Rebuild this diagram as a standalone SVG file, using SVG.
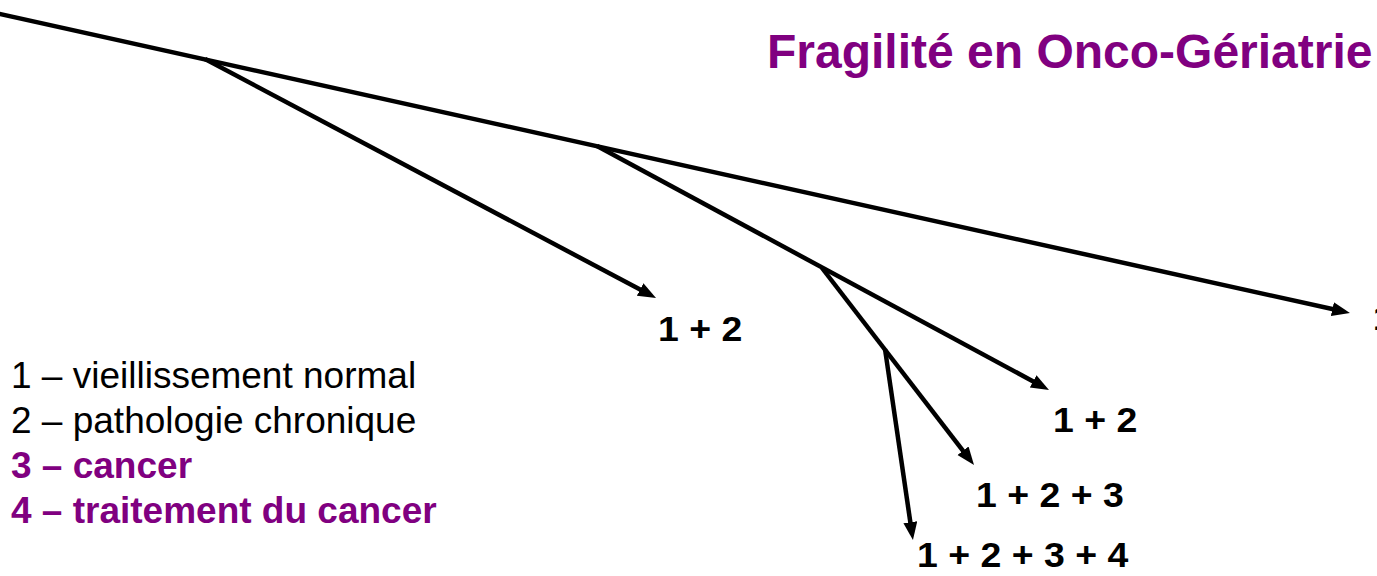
<svg xmlns="http://www.w3.org/2000/svg" width="1377" height="576" viewBox="0 0 1377 576">
<style>
.ln{stroke:#000;stroke-width:4.5;fill:none;marker-end:url(#ah)}
.lbl{font-family:"Liberation Sans",Arial,sans-serif;font-weight:bold;font-size:35px;fill:#000}
.leg{font-family:"Liberation Sans",Arial,sans-serif;font-size:37px;fill:#000}
.legp{font-family:"Liberation Sans",Arial,sans-serif;font-size:37px;font-weight:bold;fill:#800080}
.title{font-family:"Liberation Sans",Arial,sans-serif;font-size:48px;font-weight:bold;fill:#800080}
</style>
<defs>
<marker id="ah" markerUnits="userSpaceOnUse" markerWidth="20" markerHeight="16" refX="8" refY="7" orient="auto">
<path d="M0,0 L18,7 L0,14 z" fill="#000"/>
</marker>
</defs>
<rect width="1377" height="576" fill="#fff"/>
<g id="connectors">
<line class="ln" x1="-5" y1="12.9" x2="1340.2" y2="310.8"/>
<line class="ln" x1="205" y1="59" x2="647.2" y2="293.3"/>
<line class="ln" x1="597" y1="146" x2="1040.2" y2="385.2"/>
<line class="ln" x1="822" y1="268" x2="967.9" y2="457.1"/>
<line class="ln" x1="885" y1="349" x2="911.5" y2="530.1"/>
</g>
<g id="title"><text class="title" x="767" y="68">Fragilité en Onco-Gériatrie</text></g>
<g id="node-a"><text class="lbl" transform="translate(658,341) scale(1.07,1)">1 + 2</text></g>
<g id="node-b"><text class="lbl" transform="translate(1053,432) scale(1.07,1)">1 + 2</text></g>
<g id="node-c"><text class="lbl" transform="translate(976,507) scale(1.07,1)">1 + 2 + 3</text></g>
<g id="node-d"><text class="lbl" transform="translate(917,567) scale(1.07,1)">1 + 2 + 3 + 4</text></g>
<g id="node-e"><text class="lbl" x="1373" y="330">1</text></g>
<g id="legend">
<text class="leg" x="11" y="388">1 – vieillissement normal</text>
<text class="leg" x="11" y="433">2 – pathologie chronique</text>
<text class="legp" x="11" y="478">3 – cancer</text>
<text class="legp" x="11" y="523">4 – traitement du cancer</text>
</g>
</svg>
